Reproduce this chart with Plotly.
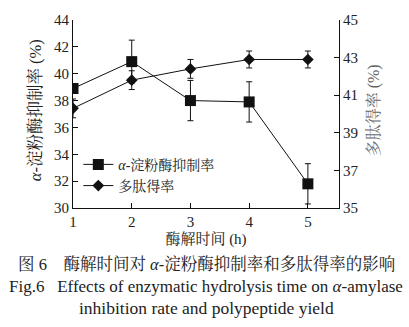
import plotly.graph_objects as go

# Hydrolysis time (h)
hours = [1, 2, 3, 4, 5]

# alpha-amylase inhibition rate (%) and its standard deviation
inhibition = [38.9, 40.9, 38.0, 37.9, 31.8]
inhibition_sd = [0.3, 1.6, 1.5, 1.5, 1.5]

# Polypeptide yield (%) and its standard deviation
peptide_yield = [40.3, 41.8, 42.4, 42.9, 42.9]
peptide_yield_sd = [0.5, 0.5, 0.5, 0.45, 0.45]

left_ticks = [30, 32, 34, 36, 38, 40, 42, 44]
right_ticks = [35, 37, 39, 41, 43, 45]

SERIF = "Liberation Serif, Times New Roman, Noto Serif CJK SC, Noto Sans CJK SC, serif"

fig = go.Figure()

fig.add_trace(go.Scatter(
    x=hours, y=inhibition, name="<i>α</i>-淀粉酶抑制率",
    mode="lines+markers",
    line=dict(color="#111111", width=1),
    marker=dict(symbol="square", size=11, color="#111111"),
    error_y=dict(type="data", array=inhibition_sd, visible=True,
                 color="#111111", thickness=1, width=3),
    yaxis="y",
))

fig.add_trace(go.Scatter(
    x=hours, y=peptide_yield, name="多肽得率",
    mode="lines+markers",
    line=dict(color="#111111", width=1),
    marker=dict(symbol="diamond", size=9, color="#111111"),
    error_y=dict(type="data", array=peptide_yield_sd, visible=True,
                 color="#111111", thickness=1, width=3),
    yaxis="y2",
))

axis_common = dict(
    showgrid=False, zeroline=False, showline=True, linecolor="#111111",
    linewidth=1, ticks="inside", ticklen=5, tickcolor="#111111",
    tickfont=dict(family=SERIF, size=15, color="#222222"),
)

fig.update_layout(
    width=409, height=327,
    margin=dict(l=73, r=70, t=14, b=119),
    paper_bgcolor="white", plot_bgcolor="white",
    font=dict(family=SERIF, size=14, color="#222222"),
    xaxis=dict(
        range=[1, 5.53], tickvals=hours,
        title=dict(text="酶解时间 (h)", font=dict(family=SERIF, size=15), standoff=4),
        **axis_common,
    ),
    yaxis=dict(range=[30, 44], tickvals=left_ticks, **axis_common),
    yaxis2=dict(range=[35, 45], tickvals=right_ticks, overlaying="y",
                side="right", **axis_common),
    legend=dict(
        x=0.02, y=0.315, xanchor="left", yanchor="top",
        bgcolor="rgba(0,0,0,0)", font=dict(family=SERIF, size=14),
        tracegroupgap=0, itemsizing="trace",
    ),
    showlegend=True,
)

# Vertical axis titles
fig.add_annotation(
    text="<i>α</i>-淀粉酶抑制率 (%)", xref="paper", yref="paper",
    x=-0.143, y=0.52, xanchor="center", yanchor="middle", textangle=-90,
    showarrow=False, font=dict(family=SERIF, size=16.5, color="#222222"),
)
fig.add_annotation(
    text="多肽得率 (%)", xref="paper", yref="paper",
    x=1.128, y=0.52, xanchor="center", yanchor="middle", textangle=-90,
    showarrow=False, font=dict(family=SERIF, size=16, color="#666666"),
)

# Figure caption
captions = [
    ("图 6　酶解时间对 <i>α</i>-淀粉酶抑制率和多肽得率的影响", -0.3, 16.5),
    ("Fig.6   Effects of enzymatic hydrolysis time on <i>α</i>-amylase", -0.418, 17),
    ("inhibition rate and polypeptide yield", -0.532, 17.5),
]
for text, ypos, size in captions:
    fig.add_annotation(
        text=text, xref="paper", yref="paper", x=0.5, y=ypos,
        xanchor="center", yanchor="middle", showarrow=False,
        font=dict(family=SERIF, size=size, color="#222222"),
    )

fig.write_html("out.html")
